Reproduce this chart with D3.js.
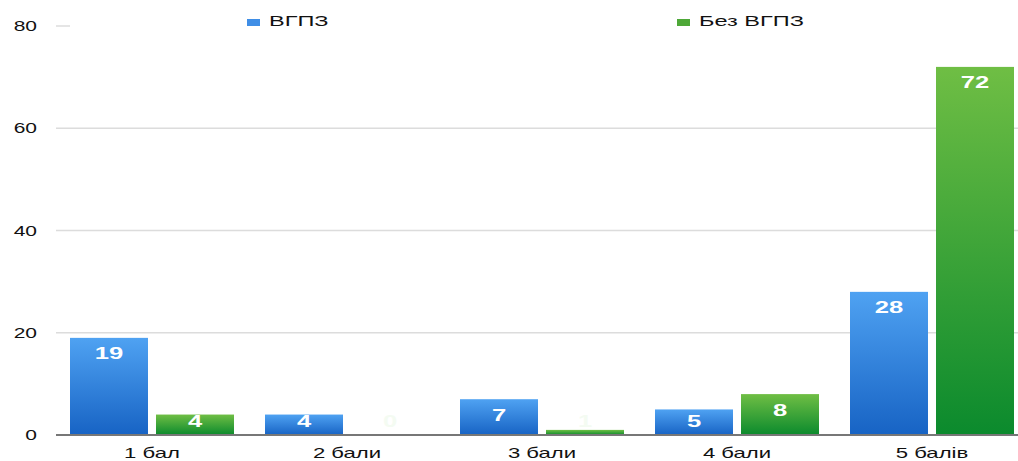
<!DOCTYPE html>
<html><head><meta charset="utf-8">
<script src="https://cdn.jsdelivr.net/npm/d3@7"></script>
<style>body{margin:0;background:#fff}svg{display:block}</style>
</head><body>
<svg id="c" width="1018" height="461"></svg>
<script>
const categories = ["1 бал", "2 бали", "3 бали", "4 бали", "5 балів"];
const seriesNames = ["ВГПЗ", "Без ВГПЗ"];
const vgpz = [19, 4, 7, 5, 28];
const bezVgpz = [4, 0, 1, 8, 72];
const yTicks = [0, 20, 40, 60, 80];

const svg = d3.select("#c");
const FONT = "'Liberation Sans', Arial, sans-serif";

const defs = svg.append("defs");
function grad(id, top, bottom) {
  const g = defs.append("linearGradient").attr("id", id).attr("x1", 0).attr("y1", 0).attr("x2", 0).attr("y2", 1);
  g.append("stop").attr("offset", "0%").attr("stop-color", top);
  g.append("stop").attr("offset", "100%").attr("stop-color", bottom);
}
grad("gBlue", "#4fa2f2", "#1763c4");
grad("gGreen", "#6fbe44", "#0b8a2d");
const fills = ["url(#gBlue)", "url(#gGreen)"];
const swatch = ["#3f8ee6", "#4ea838"];

const y = d3.scaleLinear().domain([0, 80]).range([435, 26]);
const x0 = d3.scaleBand().domain(categories).range([54.5, 1029.5]).paddingInner(0.159).paddingOuter(0.0795);
const x1 = d3.scaleBand().domain(seriesNames).range([0, x0.bandwidth()]).paddingInner(0.093).paddingOuter(0);

// gridlines
svg.append("g").selectAll("line").data(yTicks.filter(d => d > 0)).join("line")
  .attr("x1", 56).attr("x2", 1018)
  .attr("y1", d => y(d)).attr("y2", d => y(d))
  .attr("stroke", "#dcdcdc").attr("stroke-width", 1.5);

function stretchedText(parent, x, yy, txt, anchor, size, weight, fill, sx) {
  return parent.append("text")
    .attr("transform", `translate(${x},${yy}) scale(${sx},1)`)
    .attr("text-anchor", anchor)
    .attr("font-family", FONT).attr("font-size", size).attr("font-weight", weight)
    .attr("fill", fill).text(txt);
}

// y tick labels
yTicks.forEach(t => stretchedText(svg, 37, y(t) + 5, t, "end", 14, "normal", "#111", 1.5));

// bars
const data = categories.map((c, i) => ({ c, vals: [vgpz[i], bezVgpz[i]] }));
const groups = svg.append("g").selectAll("g").data(data).join("g")
  .attr("transform", d => `translate(${x0(d.c)},0)`);
groups.selectAll("rect").data(d => d.vals.map((v, k) => ({ v, k }))).join("rect")
  .attr("x", d => x1(seriesNames[d.k]))
  .attr("width", x1.bandwidth())
  .attr("y", d => y(d.v))
  .attr("height", d => y(0) - y(d.v))
  .attr("fill", d => fills[d.k]);
groups.each(function(d) {
  const g = d3.select(this);
  d.vals.forEach((v, k) => {
    const cy = Math.min(y(v) + 15, 420);
    const t = stretchedText(g, x1(seriesNames[k]) + x1.bandwidth() / 2, cy + 6.5, v, "middle", 16, "bold", "#fff", 1.6);
    if (v <= 1) t.attr("fill", "#f4fbf2");
  });
});

// axis line
svg.append("line").attr("x1", 56).attr("x2", 1018).attr("y1", y(0)).attr("y2", y(0))
  .attr("stroke", "#777").attr("stroke-width", 2);

// x labels
categories.forEach(c => stretchedText(svg, x0(c) + x0.bandwidth() / 2, 457.5, c, "middle", 14, "normal", "#111", 1.58));

// legend (white background covers top gridline)
svg.append("rect").attr("x", 70).attr("y", 14).attr("width", 948).attr("height", 22).attr("fill", "#fff");
const legX = [247, 677];
seriesNames.forEach((s, k) => {
  svg.append("rect").attr("x", legX[k]).attr("y", 19).attr("width", 13).attr("height", 7).attr("fill", swatch[k]);
  stretchedText(svg, legX[k] + 22, 26, s, "start", 15, "normal", "#111", 1.57);
});
</script>
</body></html>
